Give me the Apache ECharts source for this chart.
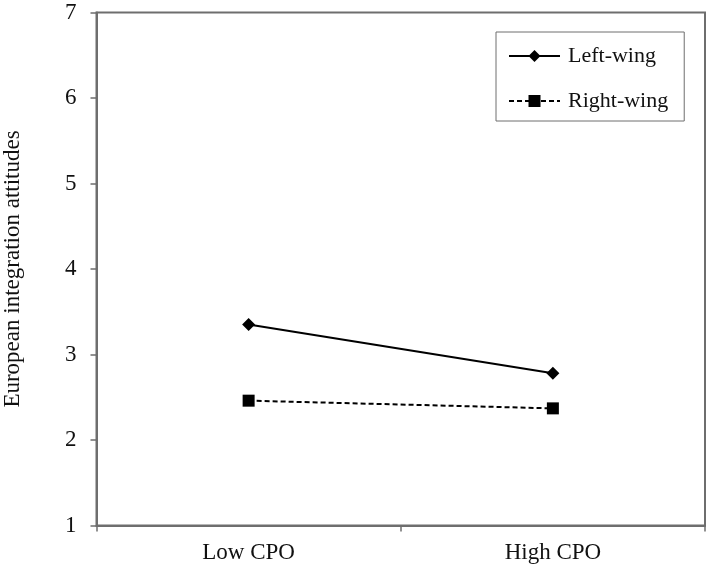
<!DOCTYPE html>
<html>
<head>
<meta charset="utf-8">
<script src="https://cdn.jsdelivr.net/npm/echarts@6/dist/echarts.min.js"></script>
<style>html,body{margin:0;padding:0;background:#fff}#c{width:709px;height:569px}</style>
</head>
<body>
<div id="c"></div>
<script>
var categories = ['Low CPO', 'High CPO'];
var leftWing = [3.35, 2.78];
var rightWing = [2.46, 2.37];
var yTicks = [1, 7, 1]; // min, max, interval

var font = '"Liberation Serif", "Times New Roman", serif';
var axisColor = '#6e6e6e';
var chart = echarts.init(document.getElementById('c'));
chart.setOption({
  animation: false,
  backgroundColor: '#fff',
  grid: {
    left: 96.5, right: 4, top: 12.5, bottom: 43.5,
    containLabel: false,
    outerBoundsMode: 'none',
    show: true, borderColor: axisColor, borderWidth: 2, backgroundColor: 'transparent'
  },
  legend: {
    orient: 'vertical',
    left: 496, top: 32,
    padding: [12, 16, 8, 12],
    borderColor: axisColor, borderWidth: 1,
    itemWidth: 51, itemHeight: 15, itemGap: 21,
    textStyle: { fontFamily: font, fontSize: 22, color: '#111', padding: [0, 0, 0, 3], lineHeight: 24 },
    data: ['Left-wing', 'Right-wing']
  },
  xAxis: {
    type: 'category',
    data: categories,
    boundaryGap: true,
    axisLine: { lineStyle: { color: axisColor, width: 2 } },
    axisTick: { show: true, length: 6, lineStyle: { color: axisColor, width: 1.5 }, interval: 0 },
    axisLabel: { fontFamily: font, fontSize: 23, color: '#111', margin: 16 },
    splitLine: { show: false }
  },
  yAxis: {
    type: 'value',
    min: yTicks[0], max: yTicks[1], interval: yTicks[2],
    name: 'European integration attitudes',
    nameLocation: 'middle',
    nameRotate: 90,
    nameGap: 72,
    nameTextStyle: { fontFamily: font, fontSize: 23, color: '#111' },
    axisLine: { show: true, lineStyle: { color: axisColor, width: 2 } },
    axisTick: { show: true, length: 6, lineStyle: { color: axisColor, width: 1.5 } },
    axisLabel: { fontFamily: font, fontSize: 23, color: '#111', margin: 20 },
    splitLine: { show: false }
  },
  series: [
    {
      name: 'Left-wing',
      type: 'line',
      data: leftWing,
      symbol: 'diamond',
      symbolSize: 13,
      itemStyle: { color: '#000' },
      lineStyle: { color: '#000', width: 2, type: 'solid' }
    },
    {
      name: 'Right-wing',
      type: 'line',
      data: rightWing,
      symbol: 'rect',
      symbolSize: 12,
      itemStyle: { color: '#000' },
      lineStyle: { color: '#000', width: 2, type: [5, 3] }
    }
  ]
});
</script>
</body>
</html>
